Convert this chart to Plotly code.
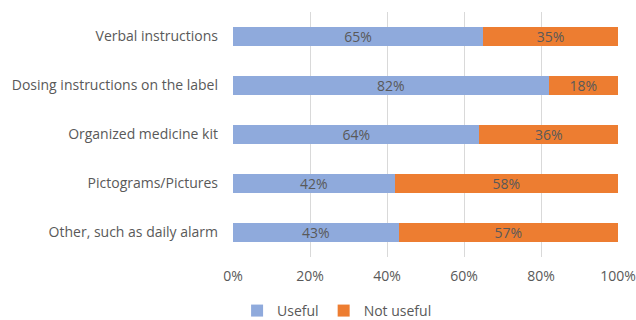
import plotly.graph_objects as go

categories = ["Verbal instructions", "Dosing instructions on the label",
              "Organized medicine kit", "Pictograms/Pictures",
              "Other, such as daily alarm"]
useful = [65, 82, 64, 42, 43]
not_useful = [35, 18, 36, 58, 57]
tick_vals = [0, 20, 40, 60, 80, 100]
tick_text = ["0%", "20%", "40%", "60%", "80%", "100%"]

FONT = "Open Sans"
GRAY = "#595959"
SIZE = 14

fig = go.Figure()
fig.add_trace(go.Bar(
    y=categories, x=useful, name="Useful", orientation="h",
    marker=dict(color="#8faadc", line=dict(width=0)),
    text=[f"{v}%" for v in useful], textposition="inside",
    insidetextanchor="middle", textfont=dict(color=GRAY, size=SIZE, family=FONT),
))
fig.add_trace(go.Bar(
    y=categories, x=not_useful, name="Not useful", orientation="h",
    marker=dict(color="#ed7d31", line=dict(width=0)),
    text=[f"{v}%" for v in not_useful], textposition="inside",
    insidetextanchor="middle", textfont=dict(color=GRAY, size=SIZE, family=FONT),
))

fig.update_layout(
    width=636, height=320,
    barmode="stack", bargap=0.61,
    margin=dict(l=233, r=18, t=12, b=63, autoexpand=False),
    paper_bgcolor="white", plot_bgcolor="white",
    font=dict(family=FONT, color=GRAY, size=SIZE),
    uniformtext=dict(mode="show", minsize=SIZE),
    xaxis=dict(range=[0, 100], tickvals=tick_vals, ticktext=tick_text,
               showgrid=True, gridcolor="#d9d9d9", gridwidth=1,
               zeroline=False, showline=False, ticks="",
               ticklabelstandoff=9, fixedrange=True, automargin=False),
    yaxis=dict(autorange="reversed", showgrid=False, zeroline=False,
               ticks="", ticklabelstandoff=14, fixedrange=True, automargin=False),
    legend=dict(orientation="h", xref="container", x=0.53, xanchor="center",
                yref="paper", y=-0.155, yanchor="top",
                font=dict(size=SIZE, color=GRAY),
                itemwidth=30, traceorder="normal"),
    showlegend=True,
)

fig.write_html("out.html")
